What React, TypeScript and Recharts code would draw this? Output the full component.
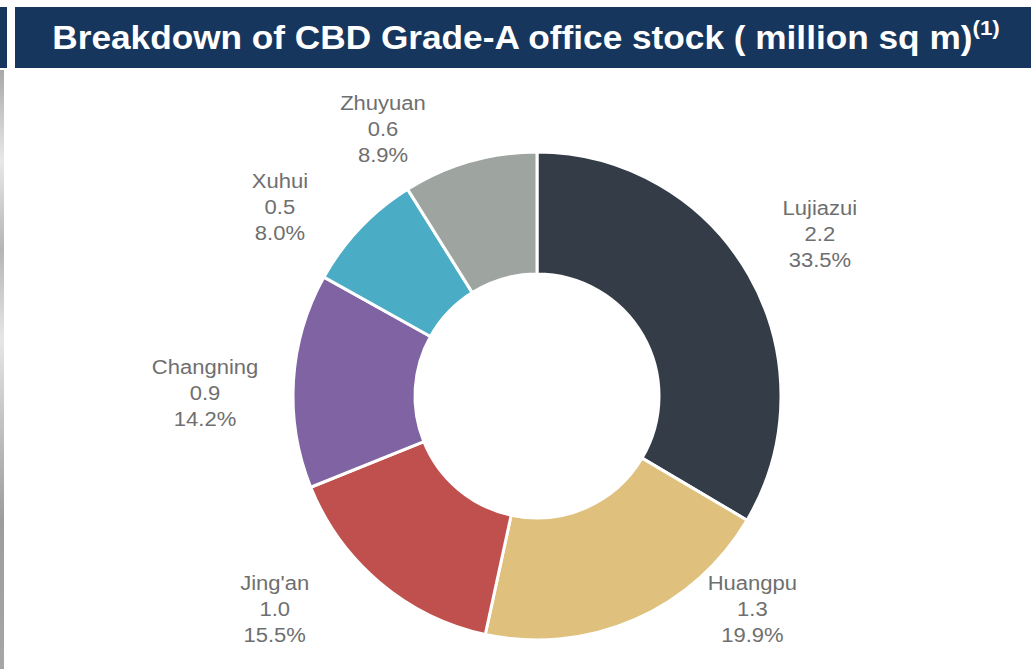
import React from "react";
import { Cell, Pie, PieChart } from "recharts";

// CBD Grade-A office stock breakdown (million sq m, share of total %)
const districts = ["Lujiazui", "Huangpu", "Jing'an", "Changning", "Xuhui", "Zhuyuan"];
const stockMillion = [2.2, 1.3, 1.0, 0.9, 0.5, 0.6];
const sharePct = [33.5, 19.9, 15.5, 14.2, 8.0, 8.9];

const COLORS = ["#333c47", "#dfc07d", "#c0504d", "#7f63a2", "#4bacc6", "#9ea49f"];

// label placement, polar around the pie centre (deg, px)
const LABEL_POLAR: [number, number][] = [
	[29.8, 326],
	[-44.7, 303],
	[-140.9, 338],
	[179.5, 332],
	[143.7, 319],
	[120, 308],
];

const data = districts.map((name, i) => ({
	name,
	stock: stockMillion[i],
	share: sharePct[i],
}));

const RAD = Math.PI / 180;

function renderLabel(props: any) {
	const { cx, cy, index } = props;
	const [deg, r] = LABEL_POLAR[index];
	const x = cx + r * Math.cos(deg * RAD);
	const y = cy - r * Math.sin(deg * RAD);
	const d = data[index];
	return (
		<text
			transform={`translate(${x},${y}) scale(1.13,1)`}
			textAnchor="middle"
			fill="#6f6f6f"
			fontSize={19.5}
			fontFamily="'Liberation Sans', Arial, sans-serif"
		>
			<tspan x={0} dy={-26 + 7}>
				{d.name}
			</tspan>
			<tspan x={0} dy={26}>
				{d.stock.toFixed(1)}
			</tspan>
			<tspan x={0} dy={26}>
				{d.share.toFixed(1)}%
			</tspan>
		</text>
	);
}

export default function App() {
	return (
		<div
			style={{
				position: "absolute",
				left: 0,
				top: 0,
				width: 1031,
				height: 669,
				background: "#ffffff",
				overflow: "hidden",
			}}
		>
			{/* cropped edge of neighbouring slide */}
			<div style={{ position: "absolute", left: 0, top: 7, width: 7, height: 61, background: "#17365d" }} />
			<div
				style={{
					position: "absolute",
					left: 0,
					top: 70,
					width: 4,
					height: 599,
					background:
						"linear-gradient(#a8a8a8 0%, #e8e8e8 15%, #b5b5b5 30%, #e6e6e6 45%, #c0c0c0 60%, #9d9d9d 75%, #a6a6a6 100%)",
				}}
			/>
			<div
				style={{
					position: "absolute",
					left: 15,
					top: 7,
					width: 1016,
					height: 61,
					background: "#17365d",
					color: "#ffffff",
					fontFamily: "'Liberation Sans', Arial, sans-serif",
					fontWeight: "bold",
					fontSize: 33,
					display: "flex",
					alignItems: "center",
					justifyContent: "center",
					whiteSpace: "nowrap",
				}}
			>
				<span style={{ display: "inline-block", transform: "scaleX(1.067)", marginLeft: 6 }}>
					Breakdown of CBD Grade-A office stock ( million sq m)
					<sup style={{ fontSize: 21, position: "relative", top: -2 }}>(1)</sup>
				</span>
			</div>
			<div style={{ position: "absolute", left: 0, top: 0 }}>
				<PieChart width={1031} height={669} margin={{ top: 0, right: 0, bottom: 0, left: 0 }}>
					<Pie
						data={data}
						dataKey="share"
						nameKey="name"
						cx={537}
						cy={396}
						innerRadius={122}
						outerRadius={244}
						startAngle={90}
						endAngle={-270}
						stroke="#ffffff"
						strokeWidth={3}
						label={renderLabel}
						labelLine={false}
						isAnimationActive={false}
					>
						{data.map((d, i) => (
							<Cell key={d.name} fill={COLORS[i]} />
						))}
					</Pie>
				</PieChart>
			</div>
		</div>
	);
}
